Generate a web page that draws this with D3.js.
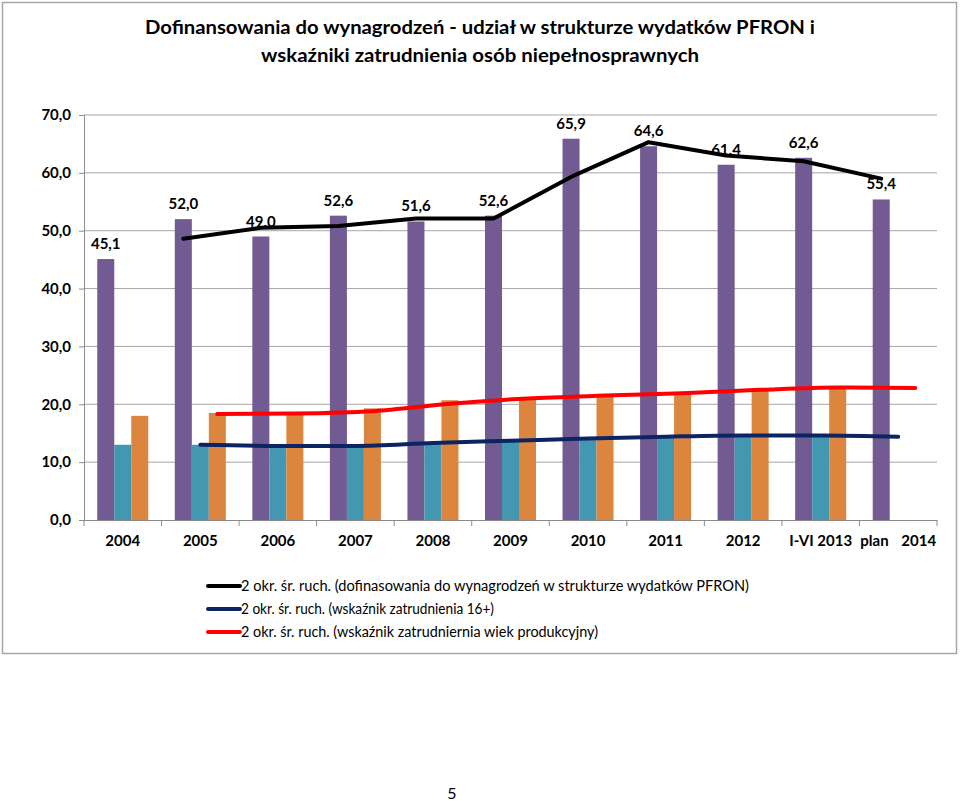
<!DOCTYPE html>
<html>
<head>
<meta charset="utf-8">
<script src="https://cdn.jsdelivr.net/npm/d3@7"></script>
<style>
  html, body { margin: 0; padding: 0; background: #fff; }
  svg { display: block; font-family: Lato, "Open Sans", sans-serif; }
</style>
</head>
<body>
<script>
const categories = ["2004","2005","2006","2007","2008","2009","2010","2011","2012","I-VI 2013","plan 2014"];
const pfronShare = [45.1, 52.0, 49.0, 52.6, 51.6, 52.6, 65.9, 64.6, 61.4, 62.6, 55.4];
const rate16 = [13.0, 13.0, 12.8, 12.8, 13.3, 13.6, 14.0, 14.4, 14.6, 14.6, null];
const rateWorkingAge = [18.0, 18.5, 18.2, 19.3, 20.7, 21.0, 21.6, 22.0, 22.8, 22.8, null];
const maPfron = [null, 48.6, 50.5, 50.8, 52.1, 52.1, 59.3, 65.3, 63.0, 62.0, 59.0];
const ma16 = [null, 13.0, 12.8, 12.8, 13.3, 13.7, 14.1, 14.4, 14.6, 14.6, 14.4];
const maWorkingAge = [null, 18.3, 18.4, 18.8, 20.1, 21.0, 21.5, 21.9, 22.5, 22.9, 22.8];
const yTicks = [0, 10, 20, 30, 40, 50, 60, 70];
const titleLines = ["Dofinansowania do wynagrodzeń - udział w strukturze wydatków PFRON i",
                    "wskaźniki zatrudnienia osób niepełnosprawnych"];
const legendLabels = ["2 okr. śr. ruch. (dofinasowania do wynagrodzeń w strukturze wydatków PFRON)",
                      "2 okr. śr. ruch. (wskaźnik zatrudnienia 16+)",
                      "2 okr. śr. ruch. (wskaźnik zatrudniernia wiek produkcyjny)"];

(function () {
const W = 960, H = 801;
const barColors = ["#725a92", "#4397b0", "#dc853f"];
const lineColors = ["#000000", "#0c2461", "#ff0000"];
const fmt = v => d3.format(".1f")(v).replace(".", ",");

const svg = d3.select("body").append("svg").attr("width", W).attr("height", H);

// outer frame
svg.append("rect").attr("x", 2.5).attr("y", 2.5).attr("width", 954).attr("height", 651)
  .attr("fill", "none").attr("stroke", "#a6a6a6").attr("stroke-width", 1.5);

// title
const titleW = [670, 438];
svg.selectAll("text.title").data(titleLines).join("text")
  .attr("class", "title")
  .attr("x", 480).attr("y", (d, i) => 34 + i * 28)
  .attr("text-anchor", "middle")
  .attr("font-size", 19.5).attr("font-weight", "bold")
  .attr("textLength", (d, i) => titleW[i]).attr("lengthAdjust", "spacingAndGlyphs")
  .text(d => d);

const pLeft = 84, pRight = 937, pTop = 115, pBottom = 520;
const x = d3.scaleBand().domain(categories).range([pLeft, pRight]).paddingInner(0).paddingOuter(0);
const y = d3.scaleLinear().domain([0, 70]).range([pBottom, pTop]);
const seriesKeys = ["a", "b", "c"];
const xs = d3.scaleBand().domain(seriesKeys).range([0, x.bandwidth()]).paddingInner(0).paddingOuter(0.78);

// gridlines
svg.append("g").selectAll("line").data(yTicks.filter(t => t > 0)).join("line")
  .attr("x1", pLeft).attr("x2", pRight).attr("y1", d => y(d)).attr("y2", d => y(d))
  .attr("stroke", "#a6a6a6").attr("stroke-width", 1);

// y axis
const yAxis = svg.append("g").attr("transform", `translate(${pLeft},0)`)
  .call(d3.axisLeft(y).tickValues(yTicks).tickFormat(fmt).tickSize(5).tickPadding(8));
yAxis.select(".domain").attr("stroke", "#8c8c8c");
yAxis.selectAll(".tick line").attr("stroke", "#8c8c8c");
yAxis.selectAll("text").attr("font-size", 15).attr("font-weight", "bold").attr("fill", "#000")
  .attr("font-family", "Lato, sans-serif");

// bars
const series = [pfronShare, rate16, rateWorkingAge];
series.forEach((vals, si) => {
  svg.append("g").selectAll("rect").data(categories.map((c, i) => ({c, v: vals[i]})).filter(d => d.v != null))
    .join("rect")
    .attr("x", d => x(d.c) + xs(seriesKeys[si]))
    .attr("width", xs.bandwidth())
    .attr("y", d => y(d.v))
    .attr("height", d => y(0) - y(d.v))
    .attr("fill", barColors[si]);
});

// x axis
const xAxis = svg.append("g").attr("transform", `translate(0,${pBottom})`)
  .call(d3.axisBottom(x).tickSize(0).tickPadding(15));
xAxis.select(".domain").attr("stroke", "#8c8c8c");
xAxis.selectAll("text").attr("font-size", 15).attr("font-weight", "bold").attr("fill", "#000")
  .attr("font-family", "Lato, sans-serif")
  .attr("word-spacing", d => d === "plan 2014" ? "9px" : null);
// category boundary ticks
svg.append("g").selectAll("line").data(categories.map(c => x(c)).concat([pRight])).join("line")
  .attr("x1", d => d).attr("x2", d => d).attr("y1", pBottom).attr("y2", pBottom + 6)
  .attr("stroke", "#8c8c8c");

// data labels (purple)
svg.append("g").selectAll("text").data(categories.map((c, i) => ({c, v: pfronShare[i]}))).join("text")
  .attr("x", d => x(d.c) + xs("a") + xs.bandwidth() / 2)
  .attr("y", d => y(d.v) - 10)
  .attr("text-anchor", "middle")
  .attr("font-size", 15).attr("font-weight", "bold")
  .text(d => fmt(d.v));

// moving-average lines
const maSeries = [maPfron, ma16, maWorkingAge];
const curves = [d3.curveLinear, d3.curveMonotoneX, d3.curveMonotoneX];
maSeries.forEach((vals, si) => {
  const pts = categories.map((c, i) => ({c, v: vals[i]})).filter(d => d.v != null);
  const line = d3.line()
    .x(d => x(d.c) + xs(seriesKeys[si]) + xs.bandwidth() / 2)
    .y(d => y(d.v))
    .curve(curves[si]);
  svg.append("path").datum(pts).attr("d", line)
    .attr("fill", "none").attr("stroke", lineColors[si]).attr("stroke-width", 4)
    .attr("stroke-linecap", "round").attr("stroke-linejoin", "round");
});

// legend
const legendW = [508, 253, 357];
const lg = svg.append("g");
legendLabels.forEach((lab, i) => {
  const yy = 586 + i * 23;
  lg.append("line").attr("x1", 208).attr("x2", 240).attr("y1", yy).attr("y2", yy)
    .attr("stroke", lineColors[i]).attr("stroke-width", 4).attr("stroke-linecap", "round");
  lg.append("text").attr("x", 241).attr("y", yy + 5)
    .attr("font-size", 15.5)
    .attr("textLength", legendW[i]).attr("lengthAdjust", "spacingAndGlyphs")
    .text(lab);
});

// page number
svg.append("text").attr("x", 452).attr("y", 799).attr("text-anchor", "middle")
  .attr("font-size", 16).text("5");
})();
</script>
</body>
</html>
